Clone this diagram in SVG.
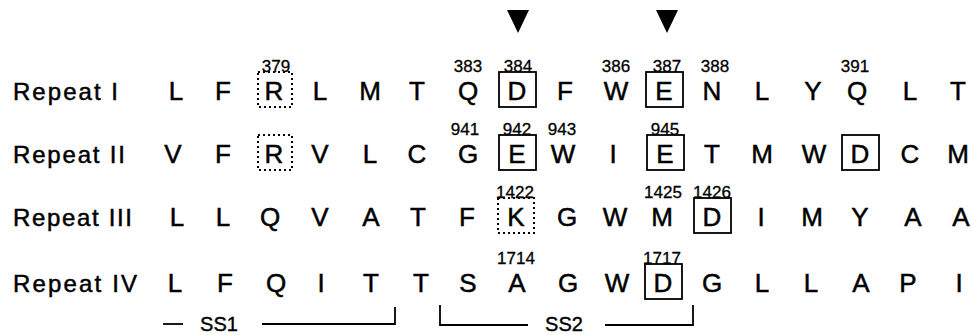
<svg xmlns="http://www.w3.org/2000/svg" width="974" height="335" viewBox="0 0 974 335">
<style>
text{font-family:"Liberation Sans",Arial,Helvetica,sans-serif;fill:#000}
.lab{font-size:24px;stroke:#000;stroke-width:0.5}
.aa{font-size:26px;text-anchor:middle;stroke:#000;stroke-width:0.5}
.num{font-size:17px;text-anchor:middle;stroke:#000;stroke-width:0.3}
.ss{font-size:20px;text-anchor:middle;stroke:#000;stroke-width:0.4}
.box{fill:none;stroke:#000;stroke-width:1.8}
.dot{fill:none;stroke:#000;stroke-width:2;stroke-dasharray:2 3}
.ln{fill:none;stroke:#000;stroke-width:1.8}
</style>
<rect width="974" height="335" fill="#fff"/>
<g id="markers">
<polygon points="507,10 529,10 518,33"/>
<polygon points="656,10 678,10 667,33"/>
</g>
<g id="row1">
<text class="lab" x="13" y="100" textLength="105" lengthAdjust="spacing">Repeat I</text>
<text class="aa" y="100"><tspan x="176">L</tspan><tspan x="223">F</tspan><tspan x="274">R</tspan><tspan x="320">L</tspan><tspan x="370">M</tspan><tspan x="417">T</tspan><tspan x="468">Q</tspan><tspan x="517">D</tspan><tspan x="565">F</tspan><tspan x="616">W</tspan><tspan x="664">E</tspan><tspan x="712">N</tspan><tspan x="762">L</tspan><tspan x="813">Y</tspan><tspan x="857">Q</tspan><tspan x="910">L</tspan><tspan x="958">T</tspan></text>
<rect class="dot" x="258" y="72" width="34" height="35"/>
<rect class="box" x="499" y="72" width="37" height="35"/>
<rect class="box" x="646" y="72" width="37" height="35"/>
<text class="num" y="72"><tspan x="276">379</tspan><tspan x="468">383</tspan><tspan x="518">384</tspan><tspan x="616">386</tspan><tspan x="667">387</tspan><tspan x="715">388</tspan><tspan x="855">391</tspan></text>
</g>
<g id="row2">
<text class="lab" x="13" y="163" textLength="112" lengthAdjust="spacing">Repeat II</text>
<text class="aa" y="163"><tspan x="173">V</tspan><tspan x="223">F</tspan><tspan x="274">R</tspan><tspan x="320">V</tspan><tspan x="370">L</tspan><tspan x="417">C</tspan><tspan x="468">G</tspan><tspan x="517">E</tspan><tspan x="563">W</tspan><tspan x="613">I</tspan><tspan x="665">E</tspan><tspan x="712">T</tspan><tspan x="762">M</tspan><tspan x="814">W</tspan><tspan x="860">D</tspan><tspan x="910">C</tspan><tspan x="958">M</tspan></text>
<rect class="dot" x="258" y="135" width="34" height="35"/>
<rect class="box" x="499" y="135" width="37" height="35"/>
<rect class="box" x="647" y="135" width="37" height="35"/>
<rect class="box" x="842" y="135" width="37" height="35"/>
<text class="num" y="135"><tspan x="465">941</tspan><tspan x="517">942</tspan><tspan x="562">943</tspan><tspan x="665">945</tspan></text>
</g>
<g id="row3">
<text class="lab" x="13" y="226" textLength="119" lengthAdjust="spacing">Repeat III</text>
<text class="aa" y="226"><tspan x="177">L</tspan><tspan x="223">L</tspan><tspan x="270">Q</tspan><tspan x="320">V</tspan><tspan x="371">A</tspan><tspan x="418">T</tspan><tspan x="467">F</tspan><tspan x="516">K</tspan><tspan x="567">G</tspan><tspan x="615">W</tspan><tspan x="662">M</tspan><tspan x="712">D</tspan><tspan x="761">I</tspan><tspan x="812">M</tspan><tspan x="860">Y</tspan><tspan x="913">A</tspan><tspan x="961">A</tspan></text>
<rect class="dot" x="498" y="198" width="36" height="35"/>
<rect class="box" x="694" y="198" width="37" height="35"/>
<text class="num" y="198"><tspan x="515">1422</tspan><tspan x="663">1425</tspan><tspan x="712">1426</tspan></text>
</g>
<g id="row4">
<text class="lab" x="13" y="292" textLength="124" lengthAdjust="spacing">Repeat IV</text>
<text class="aa" y="292"><tspan x="175">L</tspan><tspan x="225">F</tspan><tspan x="276">Q</tspan><tspan x="321">I</tspan><tspan x="371">T</tspan><tspan x="421">T</tspan><tspan x="468">S</tspan><tspan x="517">A</tspan><tspan x="568">G</tspan><tspan x="617">W</tspan><tspan x="663">D</tspan><tspan x="712">G</tspan><tspan x="762">L</tspan><tspan x="811">L</tspan><tspan x="861">A</tspan><tspan x="908">P</tspan><tspan x="959">I</tspan></text>
<rect class="box" x="645" y="264" width="37" height="35"/>
<text class="num" y="264"><tspan x="516">1714</tspan><tspan x="662">1717</tspan></text>
</g>
<g id="connectors">
<path class="ln" d="M163,324H183"/>
<path class="ln" d="M262,324H395V307"/>
<path class="ln" d="M440,305V325H528"/>
<path class="ln" d="M605,325H693V305"/>
</g>
<g id="segments">
<text class="ss" x="219" y="331">SS1</text>
<text class="ss" x="564" y="331">SS2</text>
</g>
</svg>
